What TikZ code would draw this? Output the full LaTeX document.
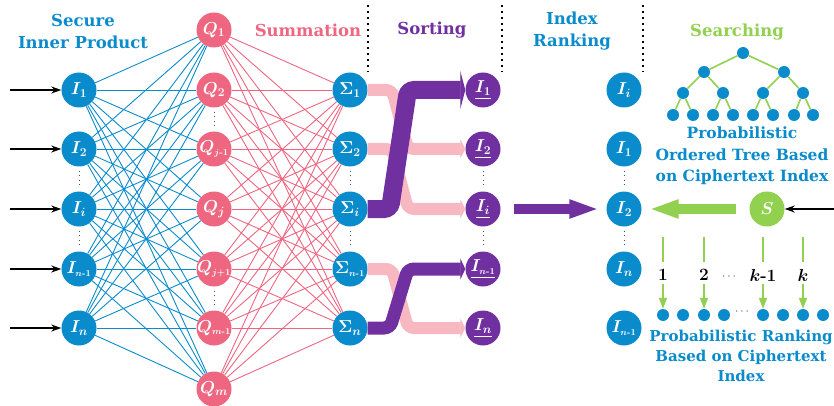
\documentclass[tikz,border=0pt]{standalone}
\usepackage{fontspec}
\usepackage{amsmath}
\newfontfamily\hfont{DejaVu Serif}
\usetikzlibrary{arrows.meta}
\definecolor{cblue}{HTML}{0A8BCC}
\definecolor{cred}{HTML}{EE6680}
\definecolor{cpink}{HTML}{F8B8C2}
\definecolor{cpurple}{HTML}{7030A0}
\definecolor{cgreen}{HTML}{92D050}
\newcommand\nlab[1]{\makebox[0pt]{#1}}
\newcommand\ssub[1]{{\scriptscriptstyle #1}}
\begin{document}
\begin{tikzpicture}[x=1pt,y=-1pt,
  every node/.style={inner sep=0pt},
  nlab/.style={circle, minimum size=35pt, text=white, font=\fontsize{17.5}{20}\selectfont\bfseries\boldmath},
  bnode/.style={nlab, fill=cblue},
  qnode/.style={nlab, fill=cred},
  pnode/.style={nlab, fill=cpurple},
  gnode/.style={nlab, fill=cgreen},
  head/.style={font=\hfont\bfseries\fontsize{16.5}{22}\selectfont, align=center},
  captxt/.style={font=\hfont\bfseries\fontsize{15}{20}\selectfont, align=center},
  tnode/.style={circle, fill=cblue, minimum size=12pt},
  vdots/.style={dash pattern=on 1pt off 3.5pt, line width=1pt, black!70, shorten <=4pt, shorten >=4pt},
  sep/.style={dash pattern=on 2pt off 4pt, line width=1.4pt},
  inarrow/.style={-{Stealth[length=10pt,width=7pt]}, line width=1.2pt},
  bline/.style={cblue, line width=0.9pt},
  rline/.style={cred, line width=0.9pt},
  pband/.style={cpink, line width=12pt, rounded corners=6pt, -{Triangle[length=5pt,width=19pt]}},
  uband/.style={cpurple, line width=13pt, rounded corners=6pt, -{Triangle[length=5pt,width=21pt]}},
  tedge/.style={cgreen, line width=1.6pt},
  garrow/.style={cgreen, line width=1.6pt},
  lab/.style={font=\fontsize{17}{19}\selectfont\bfseries\boldmath},
]
\useasboundingbox (0,0) rectangle (834,406);

% headings
\node[head, text=cblue] (hsec) at (83,31) {Secure\\Inner Product};
\node[head, text=cred] (hsum) at (308,30) {Summation};
\node[head, text=cpurple] (hsort) at (432,30) {Sorting};
\node[head, text=cblue] (hidx) at (572,31) {Index\\Ranking};
\node[head, text=cgreen] (hsea) at (737,32) {Searching};

% separators
\coordinate (sa1) at (368,5); \coordinate (sa2) at (368,72);
\coordinate (sb1) at (502,5); \coordinate (sb2) at (502,72);
\coordinate (sc1) at (643,5); \coordinate (sc2) at (643,72);
\draw[sep] (sa1) -- (sa2);
\draw[sep] (sb1) -- (sb2);
\draw[sep] (sc1) -- (sc2);

% input column
\node[bnode] (i1) at (79,90) {\nlab{$I_1$}};
\node[bnode] (i2) at (79,149) {\nlab{$I_2$}};
\node[bnode] (i3) at (79,209) {\nlab{$I_i$}};
\node[bnode] (i4) at (79,269) {\nlab{$I_{\ssub{n\text{-}1}}$}};
\node[bnode] (i5) at (79,328) {\nlab{$I_n$}};

% Q column
\node[qnode] (q1) at (214,30) {\nlab{$Q_1$}};
\node[qnode] (q2) at (214,90) {\nlab{$Q_2$}};
\node[qnode] (q3) at (214,149) {\nlab{$Q_{\ssub{j\text{-}1}}$}};
\node[qnode] (q4) at (214,209) {\nlab{$Q_j$}};
\node[qnode] (q5) at (214,269) {\nlab{$Q_{\ssub{j+1}}$}};
\node[qnode] (q6) at (214,328) {\nlab{$Q_{\ssub{m\text{-}1}}$}};
\node[qnode] (q7) at (214,389) {\nlab{$Q_m$}};

% Sigma column
\node[bnode] (s1) at (350,90) {\nlab{$\Sigma_1$}};
\node[bnode] (s2) at (350,149) {\nlab{$\Sigma_2$}};
\node[bnode] (s3) at (350,209) {\nlab{$\Sigma_i$}};
\node[bnode] (s4) at (350,269) {\nlab{$\Sigma_{\ssub{n\text{-}1}}$}};
\node[bnode] (s5) at (350,328) {\nlab{$\Sigma_n$}};

% sorted column
\node[pnode] (o1) at (483,90) {\nlab{$\underline{I_1}$}};
\node[pnode] (o2) at (483,149) {\nlab{$\underline{I_2}$}};
\node[pnode] (o3) at (483,209) {\nlab{$\underline{I_i}$}};
\node[pnode] (o4) at (483,269) {\nlab{$\underline{I_{\ssub{n\text{-}1}}}$}};
\node[pnode] (o5) at (483,328) {\nlab{$\underline{I_n}$}};

% index ranking column
\node[bnode] (r1) at (624,90) {\nlab{$I_i$}};
\node[bnode] (r2) at (624,149) {\nlab{$I_1$}};
\node[bnode] (r3) at (624,209) {\nlab{$I_2$}};
\node[bnode] (r4) at (624,269) {\nlab{$I_n$}};
\node[bnode] (r5) at (624,328) {\nlab{$I_{\ssub{n\text{-}1}}$}};

% S
\node[gnode] (S) at (767,209) {\nlab{$S$}};

% input arrows
\foreach \k/\y in {1/90,2/149,3/209,4/269,5/328}{
  \coordinate (a\k) at (10,\y);
  \draw[inarrow] (a\k) -- (i\k);
}
\coordinate (sin) at (834,209);
\draw[inarrow] (sin) -- (S);

% connections
\foreach \a in {1,...,5}{\foreach \b in {1,...,7}{\draw[bline] (i\a) -- (q\b);}}
\foreach \a in {1,...,7}{\foreach \b in {1,...,5}{\draw[rline] (q\a) -- (s\b);}}

% vertical dots
\draw[vdots] (i2) -- (i3); \draw[vdots] (i3) -- (i4);
\draw[vdots] (q2) -- (q3); \draw[vdots] (q5) -- (q6);
\draw[vdots] (s2) -- (s3); \draw[vdots] (s3) -- (s4);
\draw[vdots] (o2) -- (o3); \draw[vdots] (o3) -- (o4);
\draw[vdots] (r2) -- (r3); \draw[vdots] (r3) -- (r4);

% sorting bands
\draw[pband] (s1.east) -- (392,90) -- (408,149) -- (o2.west);
\draw[pband] (s2.east) -- (392,149) -- (408,209) -- (o3.west);
\draw[pband] (s4.east) -- (392,269) -- (408,328) -- (o5.west);
\draw[uband, line width=18pt, -{Triangle[length=5pt,width=38pt]}] (s3.east) -- (390,209) -- (408,90) -- (o1.west);
\draw[uband] (s5.east) -- (390,328) -- (408,269) -- (o4.west);

% big arrows
\draw[cpurple, line width=10pt, shorten <=13pt, shorten >=7pt, -{Triangle[length=30pt,width=17pt]}] (o3) -- (r3);
\draw[cgreen, line width=10pt, shorten <=13pt, shorten >=7pt, -{Triangle[length=30pt,width=17pt]}] (S) -- (r3);

% tree
\node[tnode] (t0) at (743,53) {};
\node[tnode] (t1) at (704,72) {};
\node[tnode] (t2) at (784,72) {};
\node[tnode] (t3) at (683,93) {};
\node[tnode] (t4) at (723,93) {};
\node[tnode] (t5) at (763,93) {};
\node[tnode] (t6) at (803,93) {};
\node[tnode] (l1) at (673,115) {};
\node[tnode] (l2) at (693,115) {};
\node[tnode] (l3) at (713,115) {};
\node[tnode] (l4) at (733,115) {};
\node[tnode] (l5) at (753,115) {};
\node[tnode] (l6) at (773,115) {};
\node[tnode] (l7) at (794,115) {};
\node[tnode] (l8) at (813,115) {};
\draw[tedge] (t0) -- (t1); \draw[tedge] (t0) -- (t2);
\draw[tedge] (t1) -- (t3); \draw[tedge] (t1) -- (t4);
\draw[tedge] (t2) -- (t5); \draw[tedge] (t2) -- (t6);
\draw[tedge] (t3) -- (l1); \draw[tedge] (t3) -- (l2);
\draw[tedge] (t4) -- (l3); \draw[tedge] (t4) -- (l4);
\draw[tedge] (t5) -- (l5); \draw[tedge] (t5) -- (l6);
\draw[tedge] (t6) -- (l7); \draw[tedge] (t6) -- (l8);

\node[captxt, font=\hfont\bfseries\fontsize{15.5}{21.5}\selectfont, text=cblue] (cap1) at (742,156) {Probabilistic\\Ordered Tree Based\\on Ciphertext Index};

% ranking dots
\node[tnode] (d1) at (663,315) {};
\node[tnode] (d2) at (683,315) {};
\node[tnode] (d3) at (704,315) {};
\node[tnode] (d4) at (724,315) {};
\node[tnode] (d5) at (763,315) {};
\node[tnode] (d6) at (783,315) {};
\node[tnode] (d7) at (803,315) {};
\node[tnode] (d8) at (823,315) {};
\node[font=\fontsize{12}{14}\selectfont, text=black!70] (dd) at (743,312) {$\cdots$};

% labels and green arrows
\node[lab] (k1) at (663,275) {$1$};
\node[lab] (k2) at (704,275) {$2$};
\node[font=\fontsize{12}{14}\selectfont, text=black!70] (kd) at (730,277) {$\cdots$};
\node[lab] (k3) at (763,275) {$k$\text{-}$1$};
\node[lab] (k4) at (803,275) {$k$};
\foreach \k/\x/\d in {1/663/d1,2/704/d3,3/763/d5,4/803/d7}{
  \coordinate (g\k) at (\x,237);
  \coordinate (h\k) at (\x,262);
  \coordinate (m\k) at (\x,284);
  \draw[garrow] (g\k) -- (h\k);
  \draw[garrow, -{Triangle[length=11pt,width=8pt]}] (m\k) -- (\d);
}

\node[captxt, text=cblue] (cap2) at (741,356) {Probabilistic Ranking\\Based on Ciphertext\\Index};
\end{tikzpicture}
\end{document}
